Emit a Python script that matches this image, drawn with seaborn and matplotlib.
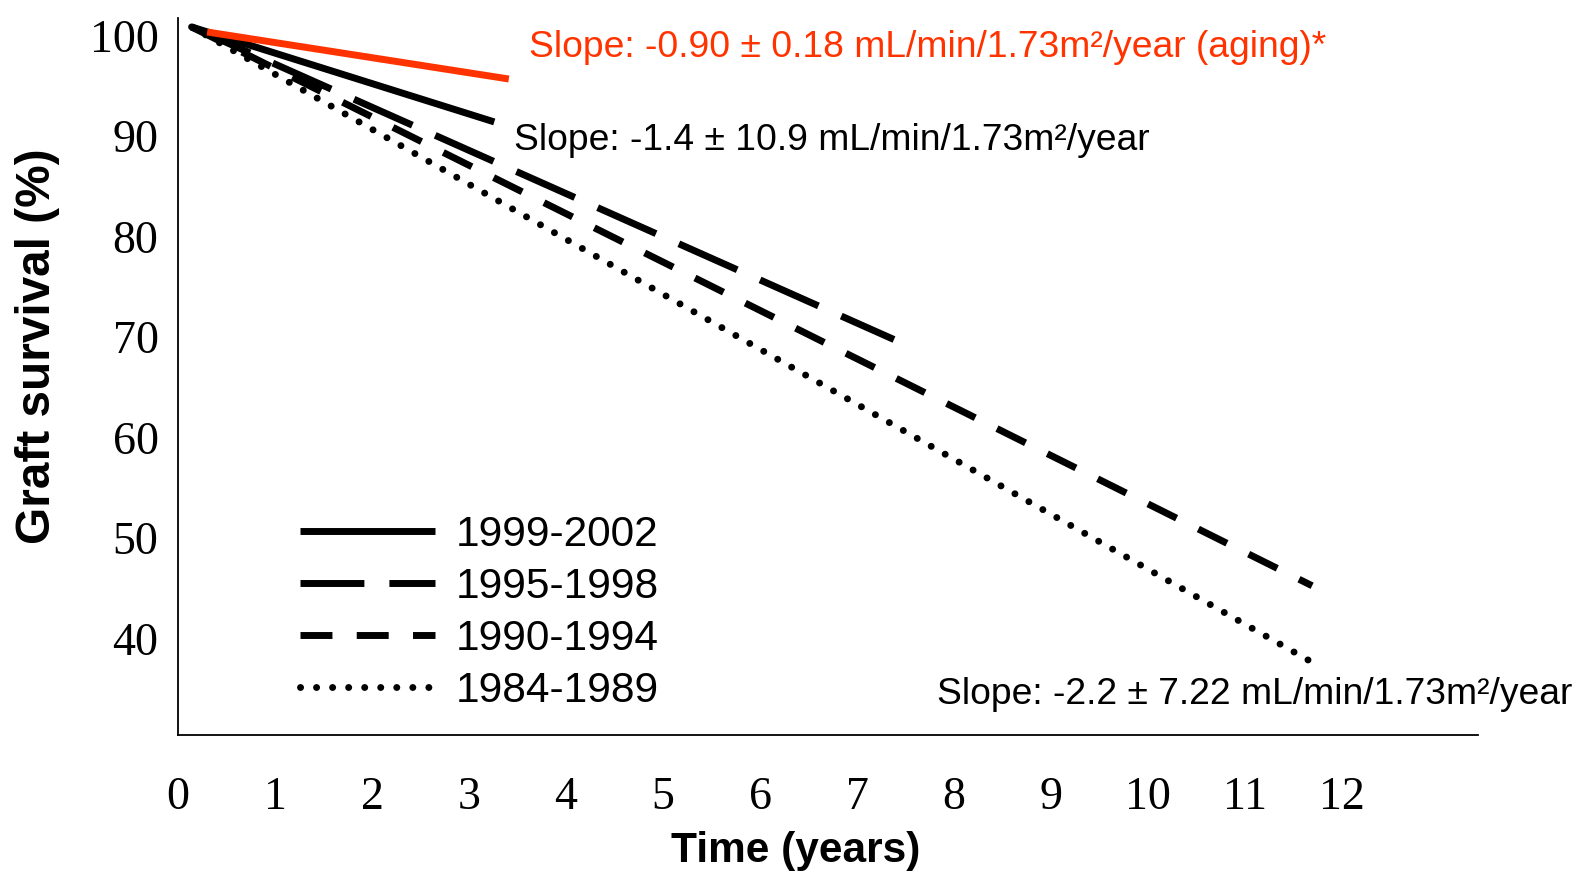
import numpy as np
import pandas as pd
import matplotlib
matplotlib.use("Agg")
import matplotlib.pyplot as plt
import seaborn as sns

# ---- data ----
cohorts = ["1999-2002", "1995-1998", "1990-1994", "1984-1989"]
years_1999_2002 = [0.14, 3.26]
surv_1999_2002 = [100.85, 91.4]
years_1995_1998 = [0.14, 7.38]
surv_1995_1998 = [100.85, 69.75]
years_1990_1994 = [0.14, 11.69]
surv_1990_1994 = [100.85, 45.25]
years_1984_1989 = [0.14, 11.66]
surv_1984_1989 = [100.85, 37.8]
years_aging = [0.30, 3.41]
surv_aging = [100.35, 95.67]

x_ticks = list(range(0, 13))
y_ticks = [40, 50, 60, 70, 80, 90, 100]

slope_aging = "Slope: -0.90 \u00b1 0.18 mL/min/1.73m\u00b2/year (aging)*"
slope_recent = "Slope: -1.4 \u00b1 10.9 mL/min/1.73m\u00b2/year"
slope_old = "Slope: -2.2 \u00b1 7.22 mL/min/1.73m\u00b2/year"

sns.set_theme(style="white")
plt.rcParams["font.family"] = ["Liberation Sans", "DejaVu Sans"]
plt.rcParams["text.color"] = "black"

W, H = 1589, 871
fig = plt.figure(figsize=(W / 100, H / 100), dpi=100)
ax = fig.add_axes([178 / W, 1 - 735 / H, 1300 / W, 717 / H])

RED = "#FF3300"
LW = 5.0
series = [
    (years_1999_2002, surv_1999_2002, cohorts[0], "-", "butt"),
    (years_1995_1998, surv_1995_1998, cohorts[1], (0, (9.2, 3.6)), "butt"),
    (years_1990_1994, surv_1990_1994, cohorts[2], (0, (4.6, 3.5)), "butt"),
    (years_1984_1989, surv_1984_1989, cohorts[3], (0, (0.01, 2.3)), "round"),
]
for xs, ys, name, ls, cap in series:
    sns.lineplot(x=xs, y=ys, ax=ax, color="black", linewidth=LW,
                 linestyle=ls, dash_capstyle=cap, solid_capstyle="butt",
                 label=name)

sns.lineplot(x=years_aging, y=surv_aging, ax=ax, color=RED, linewidth=LW,
             solid_capstyle="butt", legend=False)

ax.set_xlim(0, 13.4)
ax.set_ylim(30.4, 101.74)
ax.set_xticks(x_ticks)
ax.set_xticklabels([str(t) for t in x_ticks])
ax.set_yticks(y_ticks)
ax.set_yticklabels([str(t) for t in y_ticks])
ax.tick_params(axis="both", length=0)
ax.tick_params(axis="x", pad=30)
ax.tick_params(axis="y", pad=14)
for lab in ax.get_xticklabels() + ax.get_yticklabels():
    lab.set_fontfamily(["Liberation Serif", "DejaVu Serif"])
    lab.set_fontsize(33)
    lab.set_color("black")

for s in ["top", "right"]:
    ax.spines[s].set_visible(False)
for s in ["left", "bottom"]:
    ax.spines[s].set_visible(True)
    ax.spines[s].set_color("black")
    ax.spines[s].set_linewidth(1.3)

ax.set_xlabel("Time (years)", fontsize=30.5, fontweight="bold", color="black")
ax.set_ylabel("Graft survival (%)", fontsize=34.4, fontweight="bold", color="black")
ax.xaxis.label.set_va("center")
ax.yaxis.label.set_va("center")
ax.xaxis.set_label_coords(0.475, -0.162)
ax.yaxis.set_label_coords(-0.108, 0.5425)

ax.text(3.62, 98.8, slope_aging, color=RED, fontsize=26.8, ha="left", va="center")
ax.text(3.46, 89.6, slope_recent, color="black", fontsize=26.8, ha="left", va="center")
ax.text(7.82, 34.45, slope_old, color="black", fontsize=26.8, ha="left", va="center")

handles, labels = ax.get_legend_handles_labels()
leg = ax.legend(handles[:4], labels[:4], loc="upper left",
                bbox_to_anchor=(299.5 / W, 1 - 515 / H),
                bbox_transform=fig.transFigure, frameon=False,
                fontsize=30.5, handlelength=3.2, handletextpad=0.5,
                labelspacing=0.28, borderpad=0, borderaxespad=0)
for t in leg.get_texts():
    t.set_color("black")

fig.savefig("out.png", dpi=100, facecolor="white")
